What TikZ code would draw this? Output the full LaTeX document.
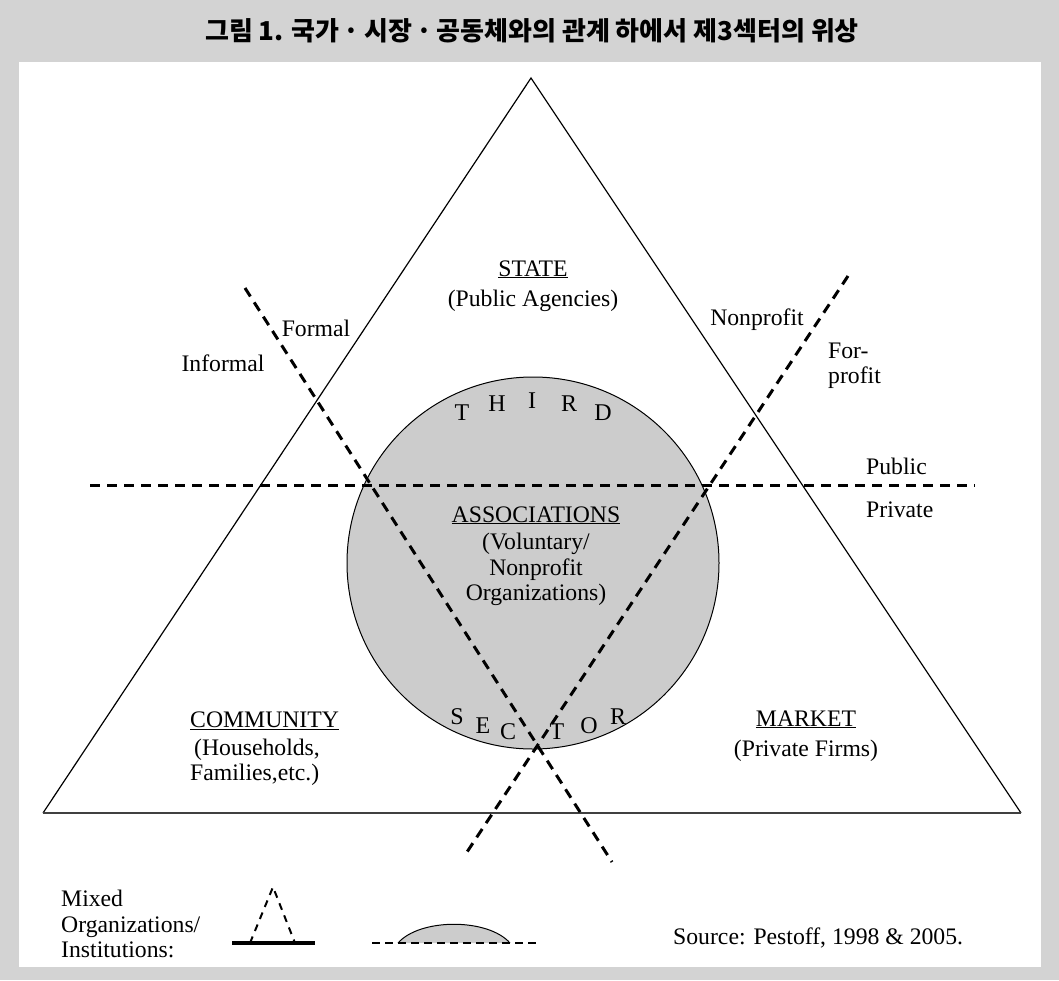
\documentclass[tikz,border=0pt]{standalone}
\usepackage{fontspec}
\setmainfont{Liberation Serif}
\newfontfamily\korfont{Noto Sans CJK KR}
\usepackage{tikz}
\definecolor{framegray}{RGB}{211,211,211}
\definecolor{sectorgray}{RGB}{204,204,204}

\begin{document}
\begin{tikzpicture}
          [x = 1pt, y = -1pt,
           every node/.style = {font = \fontsize{23.7}{25.5}\selectfont, inner sep = 0pt},
           divide/.style = {line width = 3pt, dash pattern = on 10pt off 7pt},
           letter/.style = {font = \fontsize{24}{24}\selectfont}]
          \fill[framegray] (0,0) rectangle (1059,980);
          \fill[white] (19,62) rectangle (1041,967);
          \node[font = \korfont\bfseries\fontsize{26}{26}\selectfont] (title) at (532,31)
            {그림 1. 국가\,·\,시장\,·\,공동체와의 관계 하에서 제3섹터의 위상};
          \node[circle, draw, line width = 1pt, fill = sectorgray, minimum size = 372pt] (sector) at (533,563) {};
          \coordinate (apex) at (531,78);
          \coordinate (left) at (43,813);
          \coordinate (right) at (1021,813);
          \draw[line width = 1.2pt] (left) -- (apex) -- (right);
          \draw[line width = 2pt, black!75] (left) -- (right);
          \coordinate (formalN) at (245,288);
          \coordinate (formalS) at (612,862);
          \coordinate (profitN) at (848,276);
          \coordinate (profitS) at (465,855);
          \coordinate (publicW) at (90,485);
          \coordinate (publicE) at (975,485);
          \draw[divide] (formalN) -- (formalS);
          \draw[divide] (profitN) -- (profitS);
          \draw[divide] (publicW) -- (publicE);
          \node[align = center] (state) at (533,286) {\underline{STATE}\\[5pt](Public Agencies)};
          \node (formal) at (316,328) {Formal};
          \node (informal) at (223,363) {Informal};
          \node (nonprofit) at (757,320) {Nonprofit};
          \node[align = left, anchor = west] (forprofit) at (828,366) {For-\\profit};
          \node[anchor = west] (public) at (866,466) {Public};
          \node[anchor = west] (private) at (866,510) {Private};
          \node[align = center] (assoc) at (536,556) {\underline{ASSOCIATIONS}\\[2pt](Voluntary/\\Nonprofit\\Organizations)};
          \node[align = left, anchor = west] (community) at (190,749) {\underline{COMMUNITY}\\[2pt]\,(Households,\\Families,etc.)};
          \node[align = center] (market) at (806,736) {\underline{MARKET}\\[5pt](Private Firms)};
          \foreach \ch/\px/\py in {T/462/413, H/497/404, I/532/401, R/569/404, D/603/413}
            \node[letter] (third-\ch) at (\px,\py) {\ch};
          \foreach \ch/\px/\py in {S/457/717, E/483/726, C/508/732, T/557/732, O/589/726, R/618/717}
            \node[letter] (sector-\ch) at (\px,\py) {\ch};
          \node[align = left, anchor = west] (mixed) at (61,924) {Mixed\\Organizations/\\Institutions:};
          \coordinate (mixA) at (273,887);
          \coordinate (mixL) at (250,943);
          \coordinate (mixR) at (295,943);
          \draw[line width = 2pt, dash pattern = on 7pt off 6pt] (mixL) -- (mixA) -- (mixR);
          \draw[line width = 3.5pt] (232,943) -- (315,943);
          \fill[sectorgray] (398,943) .. controls (420,918) and (488,918) .. (510,943) -- cycle;
          \draw[line width = 1pt] (398,943) .. controls (420,918) and (488,918) .. (510,943);
          \draw[line width = 2.6pt, dash pattern = on 8pt off 5pt] (372,943) -- (537,943);
          \node[anchor = west] (source) at (673,938) {Source: Pestoff, 1998 \& 2005.};
        \end{tikzpicture}
\end{document}
